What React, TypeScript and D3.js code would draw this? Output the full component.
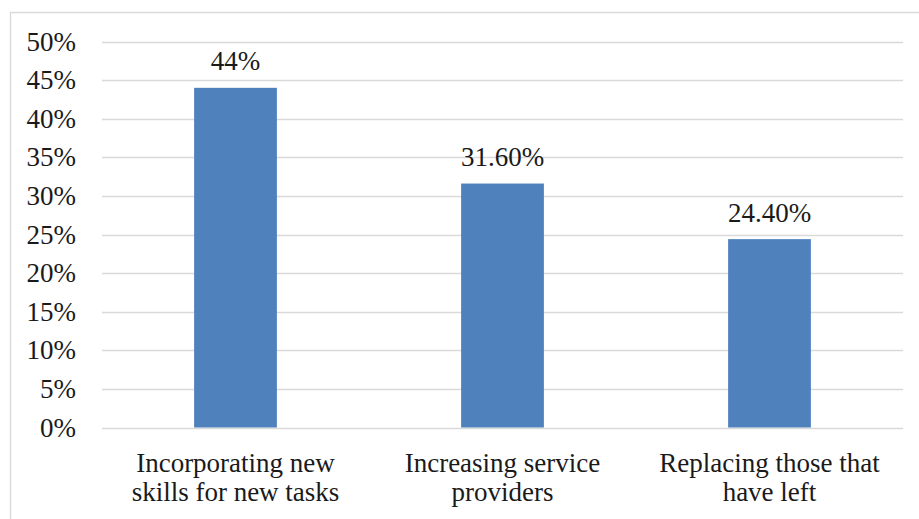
import React, { useEffect } from "react";
import * as d3 from "d3";

const categories: string[][] = [
  ["Incorporating new", "skills for new tasks"],
  ["Increasing service", "providers"],
  ["Replacing those that", "have left"],
];
const values: number[] = [44, 31.6, 24.4];
const valueLabels: string[] = ["44%", "31.60%", "24.40%"];
const yTicks: number[] = [0, 5, 10, 15, 20, 25, 30, 35, 40, 45, 50];

const W = 919;
const H = 519;
const plotLeft = 102;
const plotRight = 903;
const plotTop = 41.5;
const plotBottom = 427.5;
const FS = 27;
const FF = `"Liberation Serif", "Times New Roman", Tinos, serif`;

export default function App() {
  useEffect(() => {
    document.body.style.margin = "0";
  }, []);
  const x = d3
    .scaleBand<number>()
    .domain(values.map((_, i) => i))
    .range([plotLeft, plotRight])
    .paddingInner(0.69)
    .paddingOuter(0.345);
  const y = d3.scaleLinear().domain([0, 50]).range([plotBottom, plotTop]);

  return (
    <svg width={W} height={H}>
      <rect x={0} y={0} width={W} height={H} fill="#fff" />
      {/* chart border */}
      <path d={`M10.5,${H} V12.5 H${W}`} fill="none" stroke="#d9d9d9" strokeWidth={1.3} />
      {/* gridlines */}
      {yTicks.map((t) => (
        <line
          key={t}
          x1={plotLeft}
          x2={plotRight}
          y1={Math.round(y(t)) + 0.5}
          y2={Math.round(y(t)) + 0.5}
          stroke="#d9d9d9"
          strokeWidth={1.3}
        />
      ))}
      {/* y labels */}
      {yTicks.map((t) => (
        <text
          key={"l" + t}
          x={76}
          y={y(t) + 9}
          textAnchor="end"
          fontSize={FS}
          fill="#1a1a1a"
          fontFamily={FF}
          style={{ fontFamily: FF }}
        >
          {`${t}%`}
        </text>
      ))}
      {/* bars */}
      {values.map((v, i) => (
        <rect
          key={"b" + i}
          x={x(i)}
          y={y(v)}
          width={x.bandwidth()}
          height={plotBottom - y(v)}
          fill="#4F81BD"
        />
      ))}
      {/* value labels */}
      {values.map((v, i) => (
        <text
          key={"v" + i}
          x={(x(i) as number) + x.bandwidth() / 2}
          y={y(v) - 17.5}
          textAnchor="middle"
          fontSize={FS}
          fill="#1a1a1a"
          fontFamily={FF}
          style={{ fontFamily: FF }}
        >
          {valueLabels[i]}
        </text>
      ))}
      {/* category labels */}
      {categories.map((lines, i) =>
        lines.map((ln, j) => (
          <text
            key={"c" + i + "-" + j}
            x={(x(i) as number) + x.bandwidth() / 2}
            y={471.5 + j * 29}
            textAnchor="middle"
            fontSize={FS}
            fill="#1a1a1a"
            fontFamily={FF}
            style={{ fontFamily: FF }}
          >
            {ln}
          </text>
        ))
      )}
    </svg>
  );
}
